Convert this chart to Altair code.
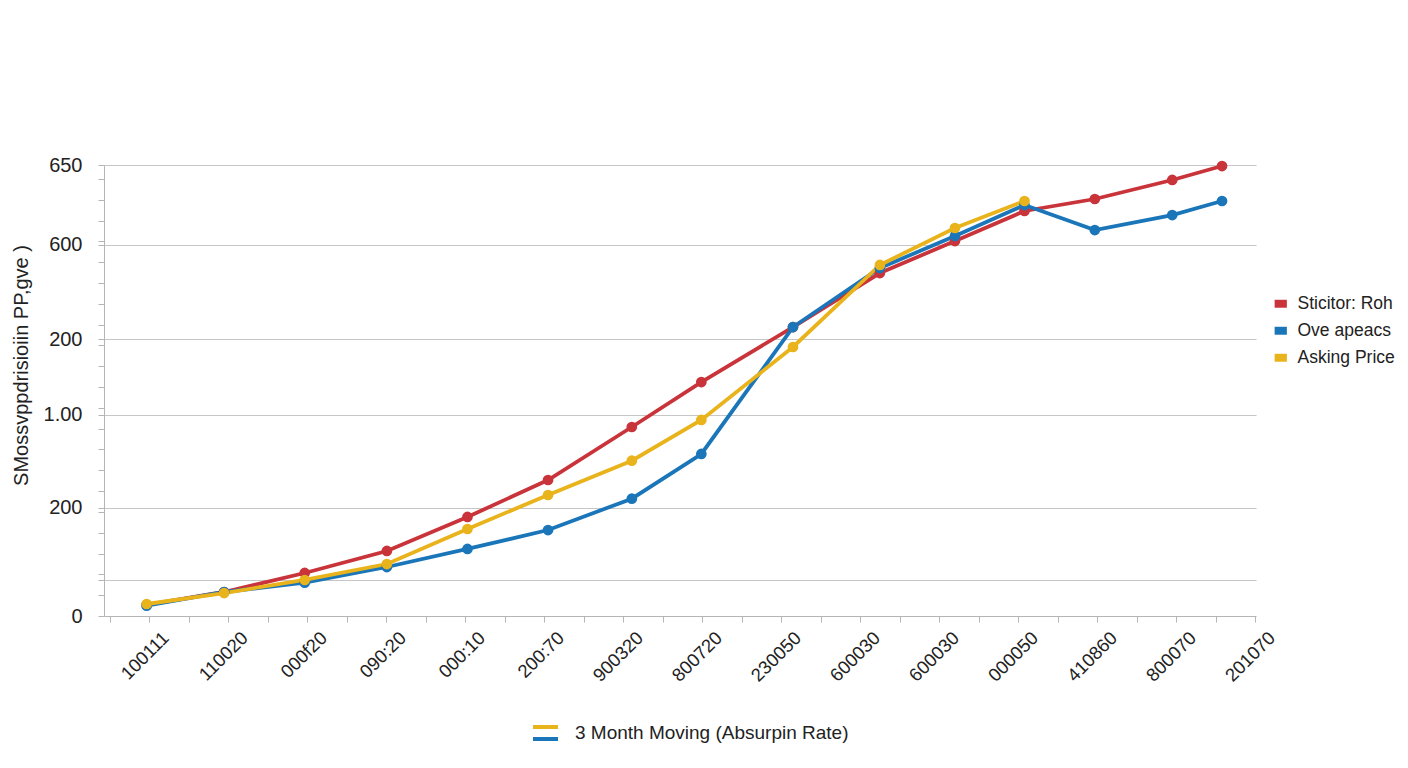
import altair as alt
import pandas as pd

# ---------------- data ----------------
x_labels = ["100111", "110020", "000f20", "090:20", "000:10", "200:70", "900320",
            "800720", "230050", "600030", "600030", "000050", "410860", "800070", "201070"]
# horizontal positions of the points, in label-slot units
point_pos = [-0.03, 0.95, 1.97, 3.01, 4.03, 5.05, 6.11, 6.99, 8.15, 9.25,
             10.20, 11.08, 11.97, 12.95, 13.58]
series_names = ["Sticitor: Roh", "Ove apeacs", "Asking Price"]
red_vals = [15.9, 34.6, 62.0, 93.7, 142.7, 196.0, 272.4, 337.2, 416.5, 494.3,
            540.4, 583.7, 601.0, 628.4, 648.5]
blue_vals = [14.8, 34.6, 48.0, 70.6, 96.6, 123.9, 169.1, 233.5, 416.5, 501.5,
             547.7, 592.3, 556.3, 577.9, 598.1]
yellow_vals = [17.3, 33.1, 51.9, 74.9, 125.4, 174.4, 223.8, 282.5, 387.7, 505.9,
               559.2, 598.1]
y_major_values = [0, 52, 156, 290, 399, 535, 650]
y_major_labels = ["0", "", "200", "1.00", "200", "600", "650"]
y_minor_values = [30 * k for k in range(1, 22)]
colors = ["#c9343b", "#1a76b9", "#e9b31c"]
y_title = "SMossvppdrisioiin PP,gve )"
bottom_legend_text = ["3 Month Moving (Absurpin Rate)"]

FONT = "Liberation Sans"

rows = []
for name, vals in zip(series_names, [red_vals, blue_vals, yellow_vals]):
    for p, v in zip(point_pos, vals):
        rows.append({"series": name, "pos": p, "value": v})
df = pd.DataFrame(rows)

# ---------------- axis helpers ----------------
x_values = [i / 2 for i in range(-1, 29)]
x_expr = "''"
for i in reversed(range(len(x_labels))):
    x_expr = f"datum.value === {i} ? '{x_labels[i]}' : ({x_expr})"

y_values = sorted(set(y_major_values + y_minor_values))
y_expr = "''"
for v, lab in zip(y_major_values, y_major_labels):
    y_expr = f"datum.value === {v} ? '{lab}' : ({y_expr})"
major_test = "indexof([" + ",".join(str(v) for v in y_major_values[1:]) + "], datum.value) >= 0"

x_enc = alt.X(
    "pos:Q",
    scale=alt.Scale(domain=[-0.57, 14.01], nice=False, zero=False),
    axis=alt.Axis(
        values=x_values, tickCount=200, labelExpr=x_expr, labelAngle=-45, labelFontSize=18.5,
        labelOffset=10, labelPadding=6, labelColor="#222222", labelFont=FONT,
        grid=False, tickSize=6, tickColor="#b5b5b5", domainColor="#b5b5b5",
        title=None, labelOverlap=False,
    ),
)
y_enc = alt.Y(
    "value:Q",
    scale=alt.Scale(domain=[0, 650], nice=False),
    axis=alt.Axis(
        values=y_values, tickCount=200, labelExpr=y_expr, labelFontSize=20, labelColor="#222222",
        labelFont=FONT, labelPadding=16, tickSize=6, tickColor="#b5b5b5",
        domainColor="#b5b5b5", grid=True, gridColor="#c6c6c6", gridWidth=1,
        gridOpacity={"condition": {"test": major_test, "value": 1}, "value": 0},
        title=y_title, titleFontSize=20, titleFontWeight="normal", titleFont=FONT,
        titleColor="#222222", titleX=-73, titleY=200, labelOverlap=False,
    ),
)

# one line layer per series (fixed colour), so only the points carry the legend
line_layers = []
for name, col in zip(series_names, colors):
    line_layers.append(
        alt.Chart(df).transform_filter(alt.datum.series == name)
        .mark_line(strokeWidth=3.8, color=col)
        .encode(x=x_enc, y=y_enc)
    )

points = alt.Chart(df).mark_point(filled=True, size=115, opacity=1).encode(
    x=x_enc, y=y_enc,
    color=alt.Color(
        "series:N", scale=alt.Scale(domain=series_names, range=colors),
        legend=alt.Legend(
            title=None, orient="none", legendX=1168, legendY=130,
            symbolType="M-1,-0.65H1V0.65H-1Z", symbolSize=150, symbolStrokeWidth=0,
            labelFontSize=17.5, labelFont=FONT, labelColor="#222222", labelOffset=8,
            rowPadding=8, padding=0, labelLimit=200, symbolOpacity=1,
        ),
    ),
)

one = pd.DataFrame({"text": bottom_legend_text})
swatch_y = alt.Chart(one).mark_rule(color=colors[2], strokeWidth=4).encode(
    x=alt.value(429), x2=alt.value(454), y=alt.value(562))
swatch_b = alt.Chart(one).mark_rule(color=colors[1], strokeWidth=4).encode(
    x=alt.value(429), x2=alt.value(454), y=alt.value(574))
legend_text = alt.Chart(one).mark_text(
    align="left", baseline="middle", fontSize=19, font=FONT, color="#222222"
).encode(text="text:N", x=alt.value(471), y=alt.value(568))

chart = alt.layer(*line_layers, points, swatch_y, swatch_b, legend_text).properties(
    width=1152, height=451, autosize="none",
    padding={"left": 96, "top": 157, "right": 144, "bottom": 140},
).configure(font=FONT, background="white", view=alt.ViewConfig(stroke=None))

chart.save("out.html", embed_options={"renderer": "svg", "actions": False})
